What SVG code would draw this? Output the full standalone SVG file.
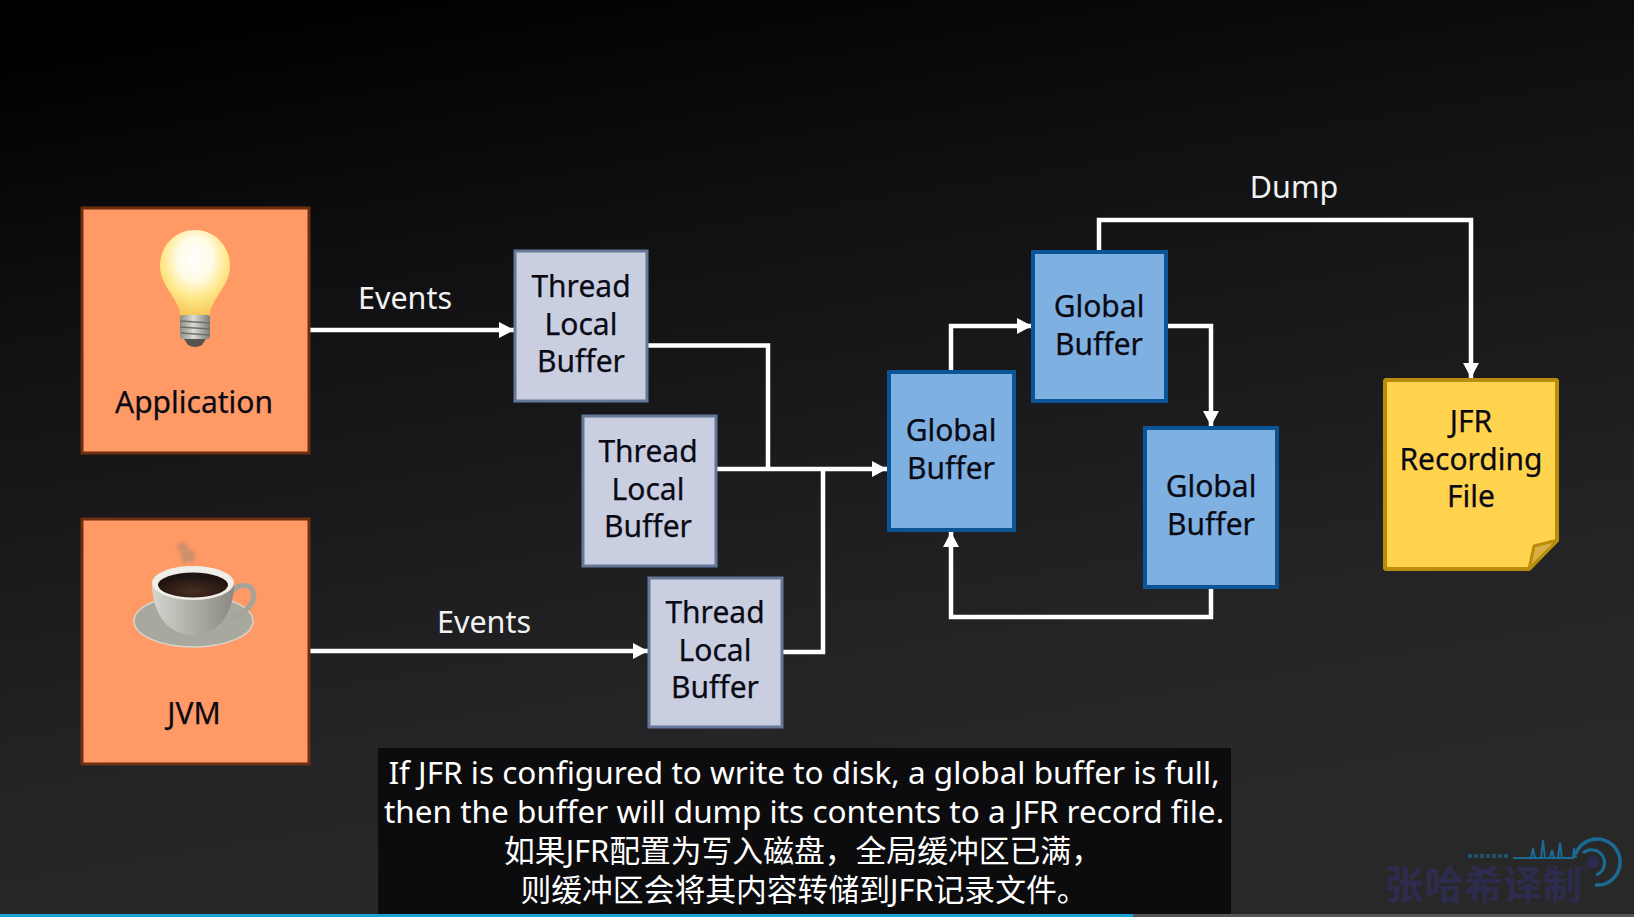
<svg xmlns="http://www.w3.org/2000/svg" width="1634" height="917" viewBox="0 0 1634 917">
<style>
.n{font-family:"Noto Sans","Noto Sans CJK SC",sans-serif;font-size:30px;fill:#0a0a14;stroke:#0a0a14;stroke-width:.25;text-anchor:middle}
.l{font-family:"Noto Sans",sans-serif;font-size:30.500px;fill:#f2f2f2;text-anchor:middle}
.s{font-family:"Noto Sans","Noto Sans CJK SC",sans-serif;font-size:31.500px;fill:#fff;text-anchor:middle}
.z{font-family:"Noto Sans","Noto Sans CJK SC",sans-serif;font-size:30.800px;fill:#fff;text-anchor:middle}
.c{fill:none;stroke:#fff;stroke-width:4.5;stroke-linejoin:miter}
.o{fill:#ff9966;stroke:#6e2f10;stroke-width:3}
.t{fill:#c9cfe0;stroke:#66789a;stroke-width:3}
.g{fill:#7fb0e2;stroke:#0b5496;stroke-width:4}
</style>
<defs>
<linearGradient id="bg" gradientUnits="userSpaceOnUse" x1="300" y1="0" x2="450" y2="917"><stop offset="0" stop-color="#000"/><stop offset=".3" stop-color="#101012"/><stop offset=".65" stop-color="#1e1e20"/><stop offset=".8" stop-color="#242426"/><stop offset="1" stop-color="#282828"/></linearGradient>
<radialGradient id="bulb" cx=".5" cy=".34" r=".66"><stop offset="0" stop-color="#fff"/><stop offset=".38" stop-color="#fffbe6"/><stop offset=".68" stop-color="#ffe98c"/><stop offset="1" stop-color="#f6c95a"/></radialGradient>
<linearGradient id="screw" x1="0" y1="0" x2="1" y2="0"><stop offset="0" stop-color="#8e8e88"/><stop offset=".45" stop-color="#dcdcd6"/><stop offset="1" stop-color="#7b7b75"/></linearGradient>
<linearGradient id="cup" x1="0" y1="0" x2="1" y2="0"><stop offset="0" stop-color="#d6d5cf"/><stop offset=".5" stop-color="#aeada6"/><stop offset="1" stop-color="#8b8a82"/></linearGradient>
<radialGradient id="coffee" cx=".5" cy=".75" r=".6"><stop offset="0" stop-color="#4a2e22"/><stop offset="1" stop-color="#1e1310"/></radialGradient>
<filter id="blur" x="-30%" y="-30%" width="160%" height="160%"><feGaussianBlur stdDeviation="1.500"/></filter>
<marker id="a" markerUnits="userSpaceOnUse" markerWidth="16" markerHeight="16" refX="15" refY="8" orient="auto"><path d="M0 0L15 8L0 16z" fill="#fff"/></marker>
</defs>
<rect width="1634" height="917" fill="url(#bg)"/>
<g id="connectors">
<path class="c" d="M310 330H514" marker-end="url(#a)"/>
<path class="c" d="M310 651H648" marker-end="url(#a)"/>
<path class="c" d="M648 345.500H768V469"/>
<path class="c" d="M717 469H887" marker-end="url(#a)"/>
<path class="c" d="M783 652H823V469"/>
<path class="c" d="M951 370V326H1032" marker-end="url(#a)"/>
<path class="c" d="M1167 326H1211V426" marker-end="url(#a)"/>
<path class="c" d="M1211 589V617H951V532" marker-end="url(#a)"/>
<path class="c" d="M1099 250V220H1471V378" marker-end="url(#a)"/>
<text class="l" x="405" y="309">Events</text>
<text class="l" x="484" y="633">Events</text>
<text class="l" x="1294" y="198">Dump</text>
</g>
<g id="application">
<rect class="o" x="82" y="208" width="227" height="245"/>
<path d="M195 230c-20 0-35 16-35 36 0 12 6 20 11 28 4 7 9 13 9 21h30c0-8 5-14 9-21 5-8 11-16 11-28 0-20-15-36-35-36z" fill="url(#bulb)"/>
<rect x="180" y="315" width="30" height="24" rx="3" fill="url(#screw)"/>
<path d="M180 321l30 2M180 327l30 2M181 333l28 2" stroke="#6f6f6a" stroke-width="1.500" fill="none"/>
<path d="M184 339h22l-4 6q-7 4-14 0z" fill="#55534f"/>
<text class="n" x="194" y="413">Application</text>
</g>
<g id="jvm">
<rect class="o" x="82" y="519" width="227" height="245"/>
<path d="M179 543c-4 4 0 8 2 10-2 4 2 8 4 12 2-5 5-5 7-1 4-4 2-9 4-10-1-4-5-3-7-5 0-4-5-8-10-6z" fill="#b08a70" opacity=".6" filter="url(#blur)"/>
<ellipse cx="193.500" cy="621" rx="59.500" ry="26" fill="#a9a89f" stroke="#d8d6cc" stroke-width="1.500"/>
<path d="M232 592c6-9 18-8 21-1 4 10-6 22-22 27" fill="none" stroke="#a5a49c" stroke-width="5"/>
<path d="M152 583c0 28 14 52 41 52s41-24 41-52z" fill="url(#cup)"/>
<ellipse cx="193" cy="583" rx="41" ry="17" fill="#efeee8"/>
<ellipse cx="193" cy="585" rx="35" ry="12.500" fill="url(#coffee)"/>
<text class="n" x="194" y="724">JVM</text>
</g>
<g id="tlb1">
<rect class="t" x="515" y="251" width="132" height="150"/>
<text class="n" x="581" y="297">Thread<tspan x="581" dy="38">Local</tspan><tspan x="581" dy="37">Buffer</tspan></text>
</g>
<g id="tlb2">
<rect class="t" x="583" y="416" width="133" height="150"/>
<text class="n" x="648" y="462">Thread<tspan x="648" dy="38">Local</tspan><tspan x="648" dy="37">Buffer</tspan></text>
</g>
<g id="tlb3">
<rect class="t" x="649" y="578" width="133" height="149"/>
<text class="n" x="715" y="623">Thread<tspan x="715" dy="38">Local</tspan><tspan x="715" dy="37">Buffer</tspan></text>
</g>
<g id="global1">
<rect class="g" x="889" y="372" width="125" height="158"/>
<text class="n" x="951" y="441">Global<tspan x="951" dy="38">Buffer</tspan></text>
</g>
<g id="global2">
<rect class="g" x="1033" y="252" width="133" height="149"/>
<text class="n" x="1099" y="317">Global<tspan x="1099" dy="37.500">Buffer</tspan></text>
</g>
<g id="global3">
<rect class="g" x="1145" y="428" width="132" height="159"/>
<text class="n" x="1211" y="497">Global<tspan x="1211" dy="38">Buffer</tspan></text>
</g>
<g id="jfr-file">
<path d="M1385 380H1557V540L1529 569H1385z" fill="#ffd34d" stroke="#b98c0a" stroke-width="4" stroke-linejoin="bevel"/>
<path d="M1529 569L1534 546L1558 540z" fill="#d9ae45" stroke="#b98c0a" stroke-width="3" stroke-linejoin="bevel"/>
<text class="n" x="1471" y="432">JFR<tspan x="1471" dy="38">Recording</tspan><tspan x="1471" dy="37">File</tspan></text>
</g>
<g id="subtitle">
<rect x="378" y="748" width="853" height="166" fill="#0c0c0e"/>
<text class="s" x="804" y="784">If JFR is configured to write to disk, a global buffer is full,<tspan x="804" dy="39">then the buffer will dump its contents to a JFR record file.</tspan><tspan class="z" x="803" dy="39">如果JFR配置为写入磁盘，全局缓冲区已满，</tspan><tspan class="z" x="804" dy="39">则缓冲区会将其内容转储到JFR记录文件。</tspan></text>
</g>
<g id="watermark">
<text x="1385" y="899" font-family="'Noto Sans CJK SC',sans-serif" font-size="39" font-weight="700" fill="#2e2c4e" textLength="197">张哈希译制</text>
<path d="M1468 856H1508" stroke="#1a6a94" stroke-width="4" stroke-dasharray="4 2" opacity=".6" fill="none"/>
<path d="M1513 858H1573L1574 848L1576 858M1531 858L1533 848L1535 858M1541 858L1543 840L1545 858M1550 858L1552 850L1554 858M1558 858L1560 843L1562 858M1573 858L1577 853" stroke="#1a6a94" stroke-width="2" fill="none"/>
<path d="M1576 853A23 23 0 1 1 1595 885" stroke="#1a6a94" stroke-width="3.500" fill="none"/>
<path d="M1583 853A13 13 0 1 1 1596 875" stroke="#1a6a94" stroke-width="3" fill="none"/>
<path d="M1593 862L1578 871" stroke="#2e2c4e" stroke-width="2" fill="none"/>
<circle cx="1593" cy="862" r="6" fill="#2e2c4e"/>
</g>
<rect x="0" y="914" width="1133" height="3" fill="#1ba1d8"/>
<rect x="1133" y="914" width="501" height="3" fill="#555"/>
</svg>
